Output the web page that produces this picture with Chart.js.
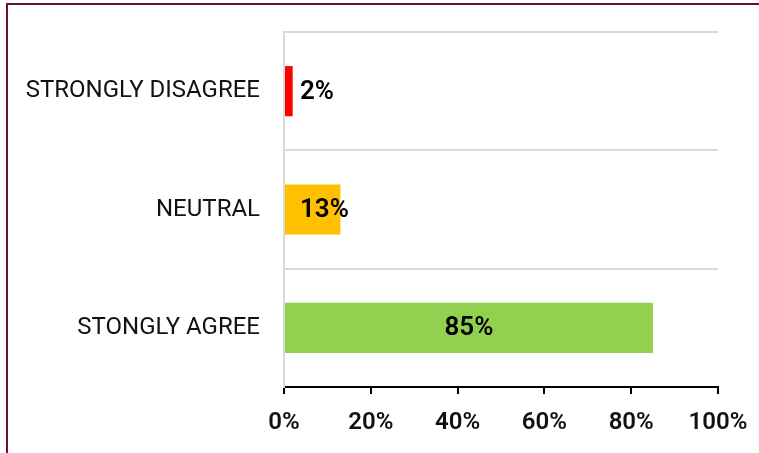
<!DOCTYPE html>
<html>
<head>
<meta charset="utf-8">
<script src="https://cdn.jsdelivr.net/npm/chart.js@4"></script>
<style>
  html, body { margin: 0; padding: 0; background: #fff; }
  #wrap { position: relative; width: 759px; height: 453px; overflow: hidden; }
  #frame {
    position: absolute; left: 6px; top: 3px; width: 800px; height: 500px;
    border: 2px solid #6b1326; pointer-events: none;
  }
  canvas { position: absolute; left: 0; top: 0; }
</style>
</head>
<body>
<div id="wrap">
  <canvas id="surveyChart" width="759" height="453"></canvas>
  <div id="frame"></div>
</div>
<script>
// Survey answers
const categories = ['STRONGLY DISAGREE', 'NEUTRAL', 'STONGLY AGREE'];
const shares = [2, 13, 85];
const barColors = ['#ff0000', '#ffc000', '#92d050'];
const xTicks = [0, 20, 40, 60, 80, 100];

// percent labels, centred on the bar or just past its start when it is short
const barLabels = {
    id: 'barLabels',
    afterDatasetsDraw(chart) {
        const ctx = chart.ctx;
        const meta = chart.getDatasetMeta(0);
        ctx.save();
        ctx.font = '600 26px Roboto';
        ctx.fillStyle = '#000';
        ctx.textBaseline = 'middle';
        ctx.textAlign = 'center';
        meta.data.forEach((bar, i) => {
            const text = shares[i] + '%';
            const w = ctx.measureText(text).width;
            const x = Math.max((bar.x + bar.base) / 2, bar.base + 15 + w / 2);
            ctx.fillText(text, x, bar.y + 1);
        });
        ctx.restore();
    }
};

const ctx = document.getElementById('surveyChart').getContext('2d');
const surveyChart = new Chart(ctx, {
    type: 'bar',
    data: {
        labels: categories,
        datasets: [
            {
                data: shares,
                backgroundColor: barColors,
                barPercentage: 50 / 118,
                categoryPercentage: 1
            }
        ]
    },
    plugins: [barLabels],
    options: {
        indexAxis: 'y',
        responsive: false,
        animation: false,
        layout: {
            padding: { top: 32, right: 41, left: 0, bottom: 0 }
        },
        plugins: {
            legend: { display: false },
            tooltip: { enabled: false }
        },
        scales: {
            x: {
                min: 0,
                max: 100,
                afterBuildTicks: axis => {
                    axis.ticks = xTicks.map(v => ({ value: v }));
                },
                afterFit: axis => {
                    axis.height = 66;
                    axis.paddingLeft = 0;
                    axis.paddingRight = 0;
                },
                border: { color: '#000', width: 2 },
                grid: {
                    drawOnChartArea: false,
                    drawTicks: true,
                    tickLength: 7,
                    color: '#000',
                    lineWidth: 2
                },
                ticks: {
                    padding: 15,
                    color: '#111',
                    font: { family: 'Roboto', size: 24, weight: '600' },
                    callback: v => v + '%'
                }
            },
            y: {
                afterFit: axis => {
                    axis.width = 284;
                    axis.paddingTop = 0;
                    axis.paddingBottom = 0;
                },
                border: { color: '#d9d9d9', width: 2 },
                grid: {
                    offset: true,
                    drawTicks: false,
                    color: '#d9d9d9',
                    lineWidth: 2
                },
                ticks: {
                    padding: 24,
                    color: '#111',
                    font: { family: 'Roboto', size: 24 }
                }
            }
        }
    }
});
</script>
</body>
</html>
